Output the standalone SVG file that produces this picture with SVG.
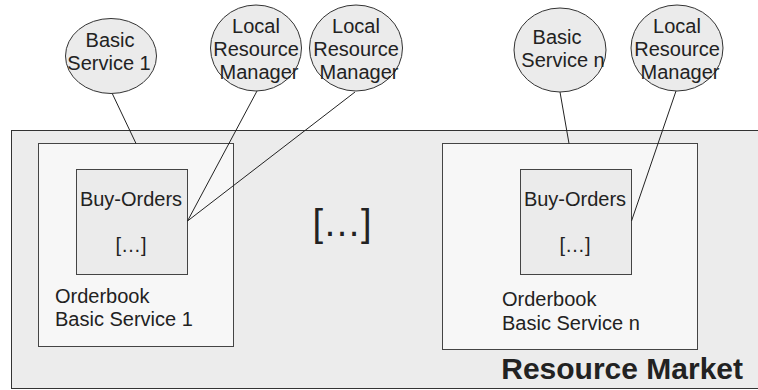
<svg xmlns="http://www.w3.org/2000/svg" width="758" height="390" viewBox="0 0 758 390">
<style>
text{font-family:"Liberation Sans",Arial,sans-serif;fill:#222;font-size:20px}
.c{text-anchor:middle}
.node ellipse{fill:#ebebeb;stroke:#333;stroke-width:1}
.ob{fill:#f7f7f7;stroke:#444;stroke-width:1}
.bo{fill:#ebebeb;stroke:#444;stroke-width:1}
.conn line{stroke:#222;stroke-width:1}
</style>
<rect width="758" height="390" fill="#ffffff"/>
<g id="market">
<rect x="11.5" y="130.5" width="760" height="258" fill="#ececec" stroke="#333"/>
<text x="743" y="379" text-anchor="end" style="font-size:30px;font-weight:bold">Resource Market</text>
<text x="342" y="236" class="c" style="font-size:38px">[…]</text>
</g>
<g id="orderbook1">
<rect class="ob" x="38.5" y="143.5" width="195" height="203"/>
<text x="55" y="303">Orderbook</text>
<text x="55" y="326">Basic Service 1</text>
</g>
<g id="buyorders1">
<rect class="bo" x="76.5" y="169.5" width="111" height="105"/>
<text x="131" y="206" class="c">Buy-Orders</text>
<text x="131" y="252" class="c">[…]</text>
</g>
<g id="orderbookn">
<rect class="ob" x="442.5" y="143.5" width="255" height="206"/>
<text x="502" y="306">Orderbook</text>
<text x="502" y="330">Basic Service n</text>
</g>
<g id="buyordersn">
<rect class="bo" x="520.5" y="169.5" width="111" height="105"/>
<text x="575" y="206" class="c">Buy-Orders</text>
<text x="575" y="252" class="c">[…]</text>
</g>
<g class="conn" id="connectors">
<line x1="112" y1="93" x2="136" y2="143.5"/>
<line x1="257" y1="91" x2="187.5" y2="221"/>
<line x1="355" y1="92" x2="187.5" y2="221"/>
<line x1="560" y1="92" x2="569" y2="143.5"/>
<line x1="676" y1="91" x2="631.5" y2="221"/>
</g>
<g class="node" id="bs1">
<ellipse cx="111" cy="56" rx="45.5" ry="37.5"/>
<text x="110" y="47" class="c">Basic</text>
<text x="109" y="70" class="c">Service 1</text>
</g>
<g class="node" id="lrm1">
<ellipse cx="256" cy="48" rx="45.5" ry="43"/>
<text x="256" y="33" class="c">Local</text>
<text x="256" y="56" class="c">Resource</text>
<text x="259" y="79" class="c">Manager</text>
</g>
<g class="node" id="lrm2">
<ellipse cx="356" cy="48" rx="46.5" ry="43"/>
<text x="356" y="33" class="c">Local</text>
<text x="356" y="56" class="c">Resource</text>
<text x="359" y="79" class="c">Manager</text>
</g>
<g class="node" id="bsn">
<ellipse cx="560" cy="50" rx="46" ry="42"/>
<text x="557" y="44" class="c">Basic</text>
<text x="563" y="67" class="c">Service n</text>
</g>
<g class="node" id="lrmn">
<ellipse cx="677" cy="48" rx="46" ry="43"/>
<text x="677" y="33" class="c">Local</text>
<text x="677" y="56" class="c">Resource</text>
<text x="680" y="79" class="c">Manager</text>
</g>
</svg>
